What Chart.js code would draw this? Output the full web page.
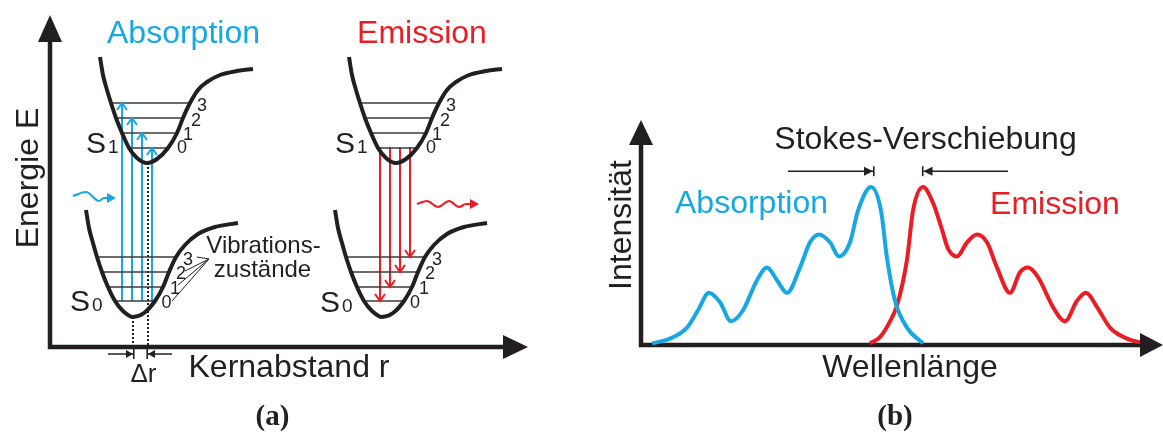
<!DOCTYPE html>
<html><head><meta charset="utf-8">
<script src="https://cdn.jsdelivr.net/npm/chart.js@4/dist/chart.umd.min.js"></script>
<style>
html,body{margin:0;padding:0;background:#fff;}
#wrap{position:relative;width:1163px;height:432px;overflow:hidden;}
canvas{position:absolute;left:0;top:0;}
</style></head><body>
<div id="wrap"><canvas id="ca" width="1163" height="432"></canvas><canvas id="cb" width="1163" height="432"></canvas></div>
<script>
// ===================== DATA =====================
// Panel (a): r = Kernabstand, E = Energie (arbitrary units)
const s1AbsR = [5.0,5.3,5.7,6.1,6.6,7.2,7.9,8.7,9.7,10.7,11.8,12.7,13.3,14.0,14.8,15.7,17.0,18.7,20.3];
const s1AbsE = [29.0,27.2,25.7,24.4,22.9,21.4,19.9,18.9,18.4,18.8,19.9,21.4,22.9,24.4,25.7,26.5,27.2,27.6,27.8];
const s0AbsR = [3.6,3.9,4.3,4.7,5.2,5.8,6.5,7.3,8.3,9.4,10.5,11.3,11.9,12.6,13.5,14.8,16.5,18.8];
const s0AbsE = [13.7,11.9,10.4,9.0,7.5,6.0,4.6,3.6,3.0,3.4,4.6,6.0,7.5,9.0,10.2,11.3,12.0,12.4];
const s1EmR = [29.9,30.2,30.6,31.0,31.5,32.1,32.8,33.6,34.6,35.6,36.7,37.6,38.2,38.9,39.7,40.6,41.9,43.6,45.2];
const s1EmE = [29.0,27.2,25.7,24.4,22.9,21.4,19.9,18.9,18.4,18.8,19.9,21.4,22.9,24.4,25.7,26.5,27.2,27.6,27.8];
const s0EmR = [28.5,28.8,29.2,29.6,30.1,30.7,31.4,32.2,33.2,34.3,35.4,36.2,36.8,37.5,38.4,39.7,41.4,43.7];
const s0EmE = [13.7,11.9,10.4,9.0,7.5,6.0,4.6,3.6,3.0,3.4,4.6,6.0,7.5,9.0,10.2,11.3,12.0,12.4];

const s1LevelE = [19.9, 21.4, 22.9, 24.4];
const s0LevelE = [4.6, 6.0, 7.5, 9.0];
const s1AbsLevelFrom = [7.9, 7.2, 6.6, 6.1];
const s1AbsLevelTo   = [11.8, 12.7, 13.3, 14.0];
const s0AbsLevelFrom = [6.5, 5.8, 5.2, 4.7];
const s0AbsLevelTo   = [10.5, 11.3, 11.8, 12.7];
const s1EmLevelFrom  = [32.8, 32.1, 31.5, 31.0];
const s1EmLevelTo    = [36.7, 37.6, 38.2, 38.9];
const s0EmLevelFrom  = [31.4, 30.7, 30.1, 29.6];
const s0EmLevelTo    = [35.4, 36.2, 36.7, 37.6];

const absArrowR = [7.2, 8.2, 9.2, 10.2];
const absArrowToLevel = [3, 2, 1, 0];
const emArrowR = [33.0, 34.0, 35.0, 36.0];
const emArrowToLevel = [0, 1, 2, 3];

const eqR = [8.3, 9.8];          // equilibrium distances S0, S1
const eqE = [3.0, 18.4];
const deltaRFrom = [5.8, 12.2];
const deltaRTo   = [8.3, 9.8];
const deltaRE = -0.7;

const photonAbsR = [2.3, 3.6, 4.9, 5.4, 5.7];
const photonAbsE = [15.1, 15.5, 14.6, 14.9, 14.9];
const photonEmR  = [36.7, 37.7, 38.8, 39.9, 40.9, 41.6, 42.0];
const photonEmE  = [14.3, 14.6, 14.0, 14.6, 14.0, 14.3, 14.3];

const vibPointerFrom = [15.9, 8.8];
const vibPointerToR = [14.7, 13.5, 12.8, 12.2];
const vibPointerToE = [9.0, 7.6, 6.2, 4.6];

const axisAR = [0, 0, 45.3];
const axisAE = [30.5, 0, 0];

// Panel (b): wavelength (a.u.), normalised intensity
const absWl = [2.2,5.8,9.2,11.4,13.6,15.8,18.0,20.4,23.2,25.2,27.2,29.2,31.8,33.8,35.6,37.8,39.6,41.8,43.4,46.0,48.0,49.2,50.8,53.2,56.4];
const absI  = [0.01,0.04,0.11,0.22,0.33,0.27,0.15,0.22,0.41,0.49,0.41,0.33,0.49,0.65,0.70,0.65,0.56,0.65,0.85,1.00,0.85,0.55,0.28,0.11,0.01];
const emWl  = [45.8,47.8,49.8,51.2,53.2,54.4,56.4,58.4,60.2,61.4,63.2,65.2,67.2,69.2,71.2,73.8,75.8,77.4,79.4,82.4,84.8,87.2,89.0,91.2,93.8,97.2,100.8];
const emI   = [0.01,0.05,0.15,0.25,0.54,0.85,1.00,0.90,0.73,0.61,0.56,0.65,0.70,0.65,0.49,0.33,0.46,0.49,0.43,0.24,0.15,0.28,0.33,0.24,0.11,0.04,0.01];

const stokesI = 1.10;
const stokesFromWl = [29.4, 73.4];
const stokesToWl   = [46.4, 56.5];

const axisBWl = [0, 0, 99.8];
const axisBI  = [1.266, 0, 0];

// ===================== STYLE / LAYOUT =====================
const W = 1163, H = 432;
const BLUE = '#17a7e3', RED = '#ec1c24', INK = '#231f20', LEVEL = '#3b3b3b';
const SANS = '"Liberation Sans", Arial, sans-serif';
const SERIF = '"Liberation Serif", "Times New Roman", serif';

function line(xs, ys, style) {
  return Object.assign({
    data: xs.map((x, i) => ({ x: x, y: ys[i] })),
    showLine: true, pointRadius: 0, pointHoverRadius: 0, fill: false, clip: false,
    borderCapStyle: 'butt', borderJoinStyle: 'round', borderColor: INK, borderWidth: 2, tension: 0
  }, style);
}
const curveStyle = { borderColor: INK, borderWidth: 4, cubicInterpolationMode: 'monotone' };
const levelStyle = { borderColor: LEVEL, borderWidth: 1.6 };

// Arrow-head decoration plugin
function drawHead(ctx, p, ang, a, color, lw) {
  ctx.save();
  ctx.translate(p.x, p.y); ctx.rotate(ang);
  ctx.fillStyle = color; ctx.strokeStyle = color;
  const off = a.anchor === 'base' ? a.len : 0;
  if (a.type === 'open') {
    ctx.lineWidth = lw; ctx.lineJoin = 'miter'; ctx.lineCap = 'butt';
    ctx.beginPath(); ctx.moveTo(off - a.len, -a.half); ctx.lineTo(off, 0); ctx.lineTo(off - a.len, a.half); ctx.stroke();
  } else {
    ctx.beginPath(); ctx.moveTo(off, 0); ctx.lineTo(off - a.len, -a.half); ctx.lineTo(off - a.len, a.half); ctx.closePath(); ctx.fill();
  }
  if (a.bar) {
    ctx.lineWidth = 1.6; ctx.beginPath(); ctx.moveTo(off + 0.8, -a.bar); ctx.lineTo(off + 0.8, a.bar); ctx.stroke();
  }
  ctx.restore();
}
const arrowPlugin = {
  id: 'arrowHeads',
  afterDatasetsDraw(chart) {
    const ctx = chart.ctx;
    chart.data.datasets.forEach((ds, i) => {
      const pts = chart.getDatasetMeta(i).data;
      const n = pts.length;
      if (ds.arrowEnd) {
        const p1 = pts[n - 2], p2 = pts[n - 1];
        drawHead(ctx, p2, Math.atan2(p2.y - p1.y, p2.x - p1.x), ds.arrowEnd, ds.borderColor, ds.borderWidth);
      }
      if (ds.arrowStart) {
        const p1 = pts[1], p0 = pts[0];
        drawHead(ctx, p0, Math.atan2(p0.y - p1.y, p0.x - p1.x), ds.arrowStart, ds.borderColor, ds.borderWidth);
      }
    });
  }
};
function textPlugin(id, items) {
  return {
    id: id,
    afterDraw(chart) {
      const c = chart.ctx;
      items.forEach(it => {
        c.save();
        c.font = it.font; c.fillStyle = it.color || INK;
        c.textAlign = it.align || 'center'; c.textBaseline = 'alphabetic';
        c.translate(it.x, it.y); if (it.rot) c.rotate(it.rot);
        c.fillText(it.t, 0, 0);
        c.restore();
      });
    }
  };
}
function baseOptions(xmin, xmax, ymin, ymax) {
  return {
    responsive: false, animation: false, devicePixelRatio: 1, events: [],
    layout: { padding: 0 },
    plugins: { legend: { display: false }, tooltip: { enabled: false } },
    scales: {
      x: { type: 'linear', display: false, min: xmin, max: xmax },
      y: { type: 'linear', display: false, min: ymin, max: ymax }
    }
  };
}

// ===================== PANEL (a) =====================
const A_OX = 50, A_OY = 347, A_PX = 10;
const dsA = [];
dsA.push(line(s1AbsR, s1AbsE, curveStyle));
dsA.push(line(s0AbsR, s0AbsE, curveStyle));
dsA.push(line(s1EmR, s1EmE, curveStyle));
dsA.push(line(s0EmR, s0EmE, curveStyle));
for (let i = 0; i < 4; i++) {
  dsA.push(line([s1AbsLevelFrom[i], s1AbsLevelTo[i]], [s1LevelE[i], s1LevelE[i]], levelStyle));
  dsA.push(line([s0AbsLevelFrom[i], s0AbsLevelTo[i]], [s0LevelE[i], s0LevelE[i]], levelStyle));
  dsA.push(line([s1EmLevelFrom[i], s1EmLevelTo[i]], [s1LevelE[i], s1LevelE[i]], levelStyle));
  dsA.push(line([s0EmLevelFrom[i], s0EmLevelTo[i]], [s0LevelE[i], s0LevelE[i]], levelStyle));
}
for (let i = 0; i < 4; i++) {
  dsA.push(line([absArrowR[i], absArrowR[i]], [s0LevelE[0], s1LevelE[absArrowToLevel[i]]],
    { borderColor: BLUE, borderWidth: 2, arrowEnd: { type: 'open', len: 7, half: 5 } }));
  dsA.push(line([emArrowR[i], emArrowR[i]], [s1LevelE[0], s0LevelE[emArrowToLevel[i]]],
    { borderColor: RED, borderWidth: 2, arrowEnd: { type: 'open', len: 7, half: 5 } }));
}
for (let i = 0; i < 2; i++) {
  dsA.push(line([eqR[i], eqR[i]], [eqE[i], 0], { borderColor: INK, borderWidth: 2, borderDash: [2, 2] }));
  dsA.push(line([deltaRFrom[i], deltaRTo[i]], [deltaRE, deltaRE],
    { borderColor: INK, borderWidth: 1.5, arrowEnd: { type: 'filled', len: 7, half: 4, bar: 5 } }));
}
dsA.push(line(photonAbsR, photonAbsE, { borderColor: BLUE, borderWidth: 2.2, cubicInterpolationMode: 'monotone',
  arrowEnd: { type: 'filled', len: 9, half: 5, anchor: 'base' } }));
dsA.push(line(photonEmR, photonEmE, { borderColor: RED, borderWidth: 2.2, cubicInterpolationMode: 'monotone',
  arrowEnd: { type: 'filled', len: 9, half: 5, anchor: 'base' } }));
for (let i = 0; i < 4; i++) {
  dsA.push(line([vibPointerFrom[0], vibPointerToR[i]], [vibPointerFrom[1], vibPointerToE[i]], { borderColor: INK, borderWidth: 1 }));
}
dsA.push(line(axisAR, axisAE, { borderColor: INK, borderWidth: 4.5, borderJoinStyle: 'miter',
  arrowStart: { type: 'filled', len: 27, half: 12, anchor: 'base' },
  arrowEnd: { type: 'filled', len: 25, half: 12, anchor: 'base' } }));

const F = (s, w) => (w || '') + ' ' + s + 'px ' + SANS;
const textsA = [
  { t: 'Absorption', x: 183.5, y: 43, font: F(32), color: BLUE },
  { t: 'Emission', x: 422, y: 43, font: F(32), color: RED },
  { t: 'Energie E', x: 38, y: 178, font: F(32), rot: -Math.PI / 2 },
  { t: 'S', x: 86, y: 153, font: F(30), align: 'left' },
  { t: '1', x: 108, y: 153, font: F(19), align: 'left' },
  { t: '0', x: 182, y: 153, font: F(18) }, { t: '1', x: 188, y: 140, font: F(18) },
  { t: '2', x: 196, y: 126, font: F(18) }, { t: '3', x: 202, y: 111, font: F(18) },
  { t: 'S', x: 70, y: 311, font: F(30), align: 'left' },
  { t: '0', x: 92, y: 311, font: F(19), align: 'left' },
  { t: '0', x: 166.5, y: 308, font: F(18) }, { t: '1', x: 175, y: 294, font: F(18) },
  { t: '2', x: 181, y: 279, font: F(18) }, { t: '3', x: 188, y: 265, font: F(18) },
  { t: 'Vibrations-', x: 263.5, y: 253, font: F(24) },
  { t: 'zustände', x: 262.5, y: 277, font: F(24) },
  { t: 'S', x: 335, y: 153, font: F(30), align: 'left' },
  { t: '1', x: 357, y: 153, font: F(19), align: 'left' },
  { t: '0', x: 431, y: 153, font: F(18) }, { t: '1', x: 437, y: 140, font: F(18) },
  { t: '2', x: 445, y: 126, font: F(18) }, { t: '3', x: 451, y: 111, font: F(18) },
  { t: 'S', x: 320, y: 312, font: F(30), align: 'left' },
  { t: '0', x: 342, y: 312, font: F(19), align: 'left' },
  { t: '0', x: 415, y: 308, font: F(18) }, { t: '1', x: 424, y: 294, font: F(18) },
  { t: '2', x: 430, y: 279, font: F(18) }, { t: '3', x: 437, y: 265, font: F(18) },
  { t: 'Kernabstand r', x: 289, y: 377, font: F(32) },
  { t: 'Δr', x: 143.5, y: 382, font: F(26) },
  { t: '(a)', x: 272.5, y: 425, font: 'bold 29px ' + SERIF }
];

new Chart(document.getElementById('ca'), {
  type: 'scatter',
  data: { datasets: dsA },
  options: baseOptions(-A_OX / A_PX, (W - A_OX) / A_PX, (A_OY - H) / A_PX, A_OY / A_PX),
  plugins: [arrowPlugin, textPlugin('textsA', textsA)]
});

// ===================== PANEL (b) =====================
const B_OX = 641, B_OY = 345, B_PXX = 5, B_PXY = 158;
const dsB = [];
dsB.push(line(absWl, absI, { borderColor: BLUE, borderWidth: 4, cubicInterpolationMode: 'monotone' }));
dsB.push(line(emWl, emI, { borderColor: RED, borderWidth: 4, cubicInterpolationMode: 'monotone' }));
for (let i = 0; i < 2; i++) {
  dsB.push(line([stokesFromWl[i], stokesToWl[i]], [stokesI, stokesI],
    { borderColor: INK, borderWidth: 1.5, arrowEnd: { type: 'filled', len: 9, half: 4.5, bar: 5 } }));
}
dsB.push(line(axisBWl, axisBI, { borderColor: INK, borderWidth: 4.5, borderJoinStyle: 'miter',
  arrowStart: { type: 'filled', len: 25, half: 12, anchor: 'base' },
  arrowEnd: { type: 'filled', len: 23, half: 12, anchor: 'base' } }));

const textsB = [
  { t: 'Stokes-Verschiebung', x: 925.5, y: 149, font: F(32) },
  { t: 'Absorption', x: 751.5, y: 213, font: F(32), color: BLUE },
  { t: 'Emission', x: 1055, y: 214, font: F(32), color: RED },
  { t: 'Intensität', x: 631, y: 225, font: F(32), rot: -Math.PI / 2 },
  { t: 'Wellenlänge', x: 910, y: 377, font: F(32) },
  { t: '(b)', x: 895, y: 425, font: 'bold 29px ' + SERIF }
];

new Chart(document.getElementById('cb'), {
  type: 'scatter',
  data: { datasets: dsB },
  options: baseOptions(-B_OX / B_PXX, (W - B_OX) / B_PXX, (B_OY - H) / B_PXY, B_OY / B_PXY),
  plugins: [arrowPlugin, textPlugin('textsB', textsB)]
});
</script>
</body></html>
